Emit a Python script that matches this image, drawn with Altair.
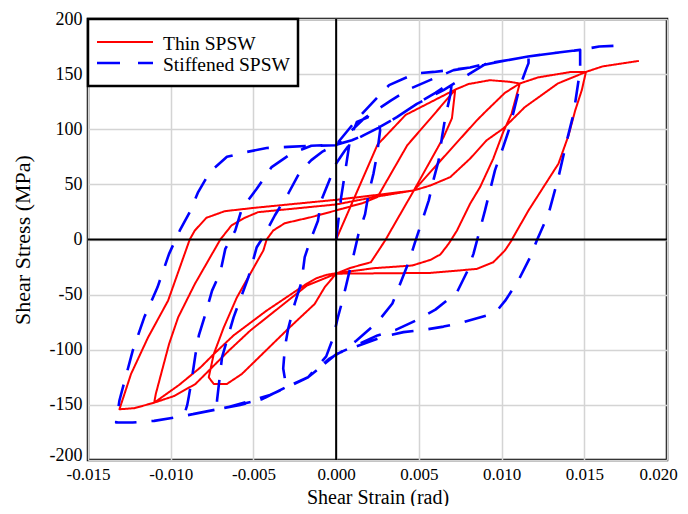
import altair as alt
import pandas as pd

# ---------------- data ----------------
series_names = ["Thin SPSW", "Stiffened SPSW"]
series_colors = ["#ff0000", "#0000ff"]

thin_strain = [
    0.0, 0.0025, 0.0042, 0.0072,
    0.0070, 0.0065, 0.0047, 0.0033, 0.0030, 0.0021, 0.00085, 0.0,
    -0.00068, -0.0013, -0.0029, -0.0057, -0.0066, -0.0074, -0.0077,
    -0.0074, -0.0068, -0.0060, -0.0044, -0.0042, -0.0038, -0.0031, -0.0015, 0.0,
    0.0016, 0.0025, 0.0043, 0.0057, 0.0072,
    0.0080, 0.0093, 0.0105, 0.0111,
    0.0106, 0.0101, 0.0095, 0.0087, 0.0081, 0.0073, 0.0068, 0.0063, 0.0057, 0.0046, 0.0023, 0.0,
    -0.00056, -0.00117, -0.00177, -0.0042, -0.0062, -0.0074, -0.0082, -0.0095, -0.0110,
    -0.0109, -0.0101, -0.00955, -0.00854, -0.0070, -0.00633, -0.00552, -0.00472, 0.0,
    0.0025, 0.0047, 0.0067, 0.0085, 0.0091, 0.0102, 0.0111,
    0.0122, 0.0142, 0.0151,
    0.01485, 0.01445, 0.01405, 0.01344, 0.01253, 0.01163, 0.0107, 0.0106, 0.0102, 0.0095, 0.0085, 0.0057, 0.0,
    -0.00177, -0.0052, -0.0065, -0.0075, -0.0085, -0.0098, -0.0110, -0.0122, -0.0131,
    -0.0124, -0.01137, -0.01016, -0.00885, -0.00854, -0.00784, -0.00673, -0.0049, 0.0,
    0.0025, 0.0047, 0.0057, 0.0069, 0.0081, 0.0091, 0.0101, 0.0114, 0.0134, 0.0151,
    0.0161, 0.0183,
]
thin_stress = [
    0, 86, 113, 136,
    110, 93, 44.5, 8, 0, -20.6, -25.8, -31,
    -43, -58.5, -81, -122, -131, -131, -125,
    -104, -80, -52.5, -10, 0, 8.2, 14.8, 20.3, 26.4,
    33, 38.5, 85.5, 109.7, 136,
    141, 144.5, 143, 141.5,
    114, 97.5, 73.4, 47.5, 32.5, 8, -3.9, -13.6, -18.5, -23.6, -26, -30.6,
    -32, -35, -40, -64.5, -87, -104, -116, -132, -148,
    -140, -94.8, -70.6, -40.3, 0, 12.7, 19.7, 24.8, 31.8,
    39, 44.5, 78, 108, 117, 133, 141.5,
    147, 152, 152,
    135.5, 117, 94.5, 68.8, 47.5, 26.4, 2, -1, -10, -20.6, -26.7, -30.3, -31,
    -41.8, -82.7, -101, -116, -131, -142, -148, -153, -154,
    -122, -88.8, -55.5, 0, 8.2, 19.7, 25.7, 28.8, 36,
    40.5, 44.5, 49, 56.6, 73.4, 90, 100.6, 120, 141.5, 152,
    157, 162,
]

stiff_strain = [
    0.0, 0.0003, 0.0005, 0.00085, 0.00125, 0.00195, 0.00256, 0.00266,
    0.00246, 0.00226, 0.00196, 0.00175, 0.00135, 0.00105, 0.00074, 0.00044, 0.0001, -0.0002, -0.0006,
    -0.0017, -0.0029,
    -0.0031, -0.0032, -0.0031, -0.0029, -0.0025, -0.0021, -0.0019, -0.0016, -0.0011, -0.0009, -0.0004, 0.0,
    0.0005, 0.0009, 0.00165, 0.00246, 0.00367, 0.00488, 0.0060, 0.0070,
    0.0069, 0.0066, 0.0064, 0.0062, 0.0059, 0.0056, 0.0052, 0.0048, 0.0044, 0.0039, 0.0034, 0.0025, 0.0012, 0.0003, -0.0004,
    -0.0017, -0.0029, -0.0045, -0.0058, -0.0072,
    -0.0072, -0.0069, -0.0062, -0.0053, -0.0048, -0.0043, -0.0037, -0.0029, -0.0022, -0.0015, -0.0008, 0.0,
    0.0012, 0.0025, 0.0032, 0.0048, 0.0059, 0.0071,
    0.0081, 0.0091, 0.0101, 0.01163,
    0.01163, 0.0115, 0.0111, 0.0105, 0.0101, 0.0096, 0.0090, 0.0083, 0.0079, 0.0073, 0.0060, 0.0048, 0.0036, 0.0025, 0.00105, 0.0,
    -0.0017, -0.0029, -0.0045, -0.0065, -0.0092,
    -0.0090, -0.0089, -0.0087, -0.0085, -0.0083, -0.0079, -0.0075, -0.0070, -0.0067, -0.0061, -0.0057, -0.0048, -0.0039, -0.0027, -0.0015, 0.0,
    0.00095, 0.00165, 0.00246, 0.00367, 0.00488, 0.00649, 0.0081, 0.0091, 0.0101, 0.01163, 0.01334, 0.01475,
    0.01475, 0.01435, 0.01395, 0.01344, 0.01284, 0.01213, 0.01173, 0.01102, 0.01022, 0.00981, 0.00911, 0.0077, 0.00649, 0.00528, 0.00407, 0.00286, 0.00105, 0.0,
    -0.0017, -0.0021, -0.0040, -0.0065, -0.0092, -0.0110, -0.0123, -0.0133,
    -0.0131, -0.0123, -0.0116, -0.0108, -0.0101, -0.00945, -0.00885, -0.00834, -0.00764, -0.0066, -0.0054, -0.0042, -0.0029, -0.0015, 0.0,
    0.0017, 0.0033, 0.0045, 0.0059, 0.0071, 0.0085, 0.0101, 0.0116, 0.0133, 0.01475, 0.0159, 0.0173,
]
stiff_stress = [
    0, 38, 57, 91.5, 106.6, 111, 108, 99,
    76, 60, 41.5, 23, 5, -14.5, -33, -52, -71, -90, -106,
    -125, -133,
    -126, -117, -98, -81, -58, -39, -16, -2.5, 17, 35.5, 54, 69,
    80, 88, 94.5, 100.6, 111, 123, 133, 143,
    131, 111, 93, 72, 55, 35.5, 17, -1, -20, -39, -58, -75, -92, -102, -108,
    -125, -133, -145, -150, -154,
    -146, -107, -70.6, -34, -7, 5, 22, 41.5, 61, 72, 80, 86,
    108, 129, 140, 150.6, 152, 154,
    156, 159.7, 162, 166,
    160, 155, 138.5, 102, 84, 62.7, 26.4, -13, -29.7, -48, -63.6, -73.6, -82, -87, -97, -104,
    -125, -133, -145, -152, -160,
    -150, -142, -124, -104, -87, -67.5, -46.4, -29.7, -8.5, 8, 28, 46, 65.7, 78, 85, 86,
    90, 94.5, 100.6, 111, 123, 135.5, 150.6, 159.7, 162, 166, 169.4, 172,
    154, 114, 90, 56.6, 23.3, -0.9, -16, -37, -55.5, -63, -69, -75, -79, -82, -84, -88, -98, -104,
    -125, -128, -141, -152, -160, -164.5, -166, -166,
    -146, -101, -70.6, -43.4, -13, 8.2, 24.8, 43, 61, 75, 79.4, 83, 84, 85, 85.5,
    110, 126, 137, 146, 153.6, 157, 162, 166, 169.4, 172, 175, 176,
]

x_ticks = [-0.015, -0.010, -0.005, 0.0, 0.005, 0.010, 0.015, 0.020]
y_ticks = [-200, -150, -100, -50, 0, 50, 100, 150, 200]

# ---------------- table ----------------
rows = []
for name, xs, ys in [(series_names[0], thin_strain, thin_stress),
                     (series_names[1], stiff_strain, stiff_stress)]:
    for i, (xv, yv) in enumerate(zip(xs, ys)):
        rows.append({"strain": xv, "stress": yv, "series": name, "order": i})
df = pd.DataFrame(rows)

FONT = "Liberation Serif"

x_enc = alt.X(
    "strain:Q",
    scale=alt.Scale(domain=[-0.015, 0.020], nice=False, zero=False),
    axis=alt.Axis(
        values=x_ticks, grid=True, ticks=False, domain=False,
        labelExpr="datum.value < -1e-9 ? '-' + format(-datum.value, '.3f') : format(abs(datum.value), '.3f')",
        labelFlush=False, labelOverlap=False, labelPadding=6.5, labelFontSize=17,
        labelOffset={"condition": {"test": "datum.value > 0.019", "value": -9}, "value": 0},
        title="Shear Strain (rad)", titleBaseline="alphabetic", titleY=43, titleFontSize=20,
    ),
)
y_enc = alt.Y(
    "stress:Q",
    scale=alt.Scale(domain=[-200, 200], nice=False, zero=False),
    axis=alt.Axis(
        values=y_ticks, grid=True, ticks=False, domain=False,
        labelExpr="datum.value < 0 ? '-' + format(-datum.value, 'd') : format(datum.value, 'd')",
        labelFlush=False, labelOverlap=False, labelPadding=6,
        labelOffset={"condition": {"test": "datum.value < -199", "value": -5}, "value": 0},
        title="Shear Stress (MPa)", titlePadding=15,
    ),
)

curves = alt.Chart(df).mark_line(strokeJoin="round").encode(
    x=x_enc,
    y=y_enc,
    order="order:Q",
    color=alt.Color("series:N", scale=alt.Scale(domain=series_names, range=series_colors), legend=None),
    strokeDash=alt.StrokeDash("series:N", scale=alt.Scale(domain=series_names, range=[[1, 0], [22, 15]]), legend=None),
    strokeWidth=alt.StrokeWidth("series:N", scale=alt.Scale(domain=series_names, range=[2, 2.6]), legend=None),
)

vzero = alt.Chart(pd.DataFrame({"strain": [0.0]})).mark_rule(color="black", strokeWidth=2).encode(x=x_enc)
hzero = alt.Chart(pd.DataFrame({"stress": [0.0]})).mark_rule(color="black", strokeWidth=2).encode(y=y_enc)

one = pd.DataFrame({"k": [0]})
leg_box = alt.Chart(one).mark_rect(fill="white", stroke="black", strokeWidth=2.5).encode(
    x=alt.value(0), x2=alt.value(210), y=alt.value(0), y2=alt.value(67))
leg_red = alt.Chart(one).mark_rule(color=series_colors[0], strokeWidth=2).encode(
    x=alt.value(9), x2=alt.value(65), y=alt.value(23))
leg_blue = alt.Chart(one).mark_rule(color=series_colors[1], strokeWidth=2.6, strokeDash=[23, 18]).encode(
    x=alt.value(9), x2=alt.value(65), y=alt.value(44))
leg_t1 = alt.Chart(one).mark_text(align="left", baseline="alphabetic", font=FONT, fontSize=19.5, color="black").encode(
    x=alt.value(75), y=alt.value(30.5), text=alt.value(series_names[0]))
leg_t2 = alt.Chart(one).mark_text(align="left", baseline="alphabetic", font=FONT, fontSize=19.5, color="black").encode(
    x=alt.value(75), y=alt.value(52), text=alt.value(series_names[1]))

chart = alt.layer(curves, vzero, hzero, leg_box, leg_red, leg_blue, leg_t1, leg_t2).properties(
    width=579, height=441,
    autosize=alt.AutoSizeParams(type="none"),
    padding={"left": 80, "top": 11, "right": 13, "bottom": 46},
    background="white",
).configure_view(
    stroke="black", strokeWidth=2.5,
).configure_axis(
    gridColor="#d4d4d4", gridWidth=1.5,
    labelFont=FONT, labelFontSize=18, labelColor="black",
    titleFont=FONT, titleFontSize=22, titleFontWeight="normal", titleColor="black",
)

chart.save("out.html", embed_options={"renderer": "svg", "actions": False})
